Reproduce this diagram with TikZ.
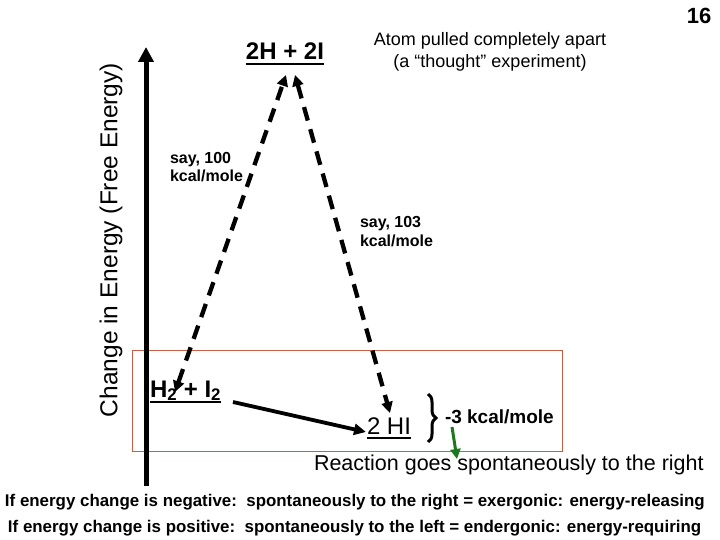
\documentclass[tikz,border=0pt]{standalone}
\usepackage{fontspec}
\setmainfont{Liberation Sans}
\usetikzlibrary{arrows.meta,calc,decorations.pathreplacing}
\begin{document}
\begin{tikzpicture}[x=1pt,y=-1pt,
  txt/.style={inner sep=0pt,outer sep=0pt},
  ulline/.style={line width=1.8pt},
  dasharrow/.style={line width=4.3pt,dash pattern=on 14pt off 9pt,
    {Triangle[length=11pt,width=11pt]}-{Triangle[length=11pt,width=11pt]}},
  solidarrow/.style={line width=3.8pt,-{Triangle[length=12pt,width=11pt]}},
]
\useasboundingbox[fill=white] (0,0) rectangle (720,540);
% frame box
\draw[draw={rgb,255:red,200;green,95;blue,70},line width=1pt] (132,350) rectangle (562,451);
% axis
\coordinate (axb) at (146,486);
\coordinate (axt) at (146,47);
\draw[line width=5pt,-{Triangle[length=15pt,width=15pt]}] (axb) -- (axt);
\node[txt,rotate=90,font=\fontsize{24.5}{28}\selectfont] (ylab) at (111,240) {Change in Energy (Free Energy)};
% page number
\node[txt,anchor=base,font=\bfseries\fontsize{22}{26}\selectfont] (num) at (699,24) {16};
% top level
\node[txt,anchor=base,font=\bfseries\fontsize{24}{28}\selectfont] (top) at (285,60) {2H + 2I};
\draw[ulline] ($(top.base west)+(0,4)$) -- ($(top.base east)+(0,4)$);
\node[txt,anchor=base,font=\fontsize{18}{22}\selectfont] (atom1) at (490,46) {Atom pulled completely apart};
\node[txt,anchor=base,font=\fontsize{18}{22}\selectfont] (atom2) at (490,68) {(a “thought” experiment)};
% labels
\node[txt,anchor=base west,font=\bfseries\fontsize{16}{18}\selectfont] (say1a) at (170,164) {say, 100};
\node[txt,anchor=base west,font=\bfseries\fontsize{16}{18}\selectfont] (say1b) at (170,182) {kcal/mole};
\node[txt,anchor=base west,font=\bfseries\fontsize{16}{18}\selectfont] (say2a) at (360,228) {say, 103};
\node[txt,anchor=base west,font=\bfseries\fontsize{16}{18}\selectfont] (say2b) at (360,246) {kcal/mole};
% reactants / products
\node[txt,anchor=base west,font=\bfseries\fontsize{24}{28}\selectfont] (react) at (150,397) {H\textsubscript{2} + I\textsubscript{2}};
\draw[ulline] ($(react.base west)+(0,5)$) -- ($(react.base east)+(0,5)$);
\node[txt,anchor=base west,font=\fontsize{24}{28}\selectfont] (prod) at (367,434) {2 HI};
\draw[ulline] ($(prod.base west)+(0,4)$) -- ($(prod.base east)+(0,4)$);
% dashed arrows
\coordinate (l1) at (175,392);
\coordinate (l2) at (286,75);
\coordinate (r1) at (295,75);
\coordinate (r2) at (390,413);
\draw[dasharrow] (l1) -- (l2);
\draw[dasharrow] (r1) -- (r2);
% solid arrow
\coordinate (s1) at (233,402);
\coordinate (s2) at (366,432);
\draw[solidarrow] (s1) -- (s2);
% brace
\coordinate (b1) at (428,394);
\coordinate (b2) at (428,442);
\draw[decorate,decoration={brace,amplitude=8pt},line width=3pt] (b1) -- (b2);
\node[txt,anchor=base west,font=\bfseries\fontsize{19}{22}\selectfont] (dg) at (445,423) {-3 kcal/mole};
% green arrow
\coordinate (g1) at (452,427);
\coordinate (g2) at (457,459);
\draw[line width=3pt,draw={rgb,255:red,30;green,120;blue,30},-{Triangle[length=10pt,width=10pt]}] (g1) -- (g2);
\node[txt,anchor=base west,font=\fontsize{21.5}{25}\selectfont] (spont) at (314,470) {Reaction goes spontaneously to the right};
% bottom text
\node[txt,anchor=base west,font=\bfseries\fontsize{16.9}{20}\selectfont] (neg) at (5,506) {If energy change is negative:\ \ spontaneously to the right = exergonic: energy-releasing};
\node[txt,anchor=base west,font=\bfseries\fontsize{16.9}{20}\selectfont] (pos) at (8,532) {If energy change is positive:\ \ spontaneously to the left = endergonic: energy-requiring};
\end{tikzpicture}
\end{document}
